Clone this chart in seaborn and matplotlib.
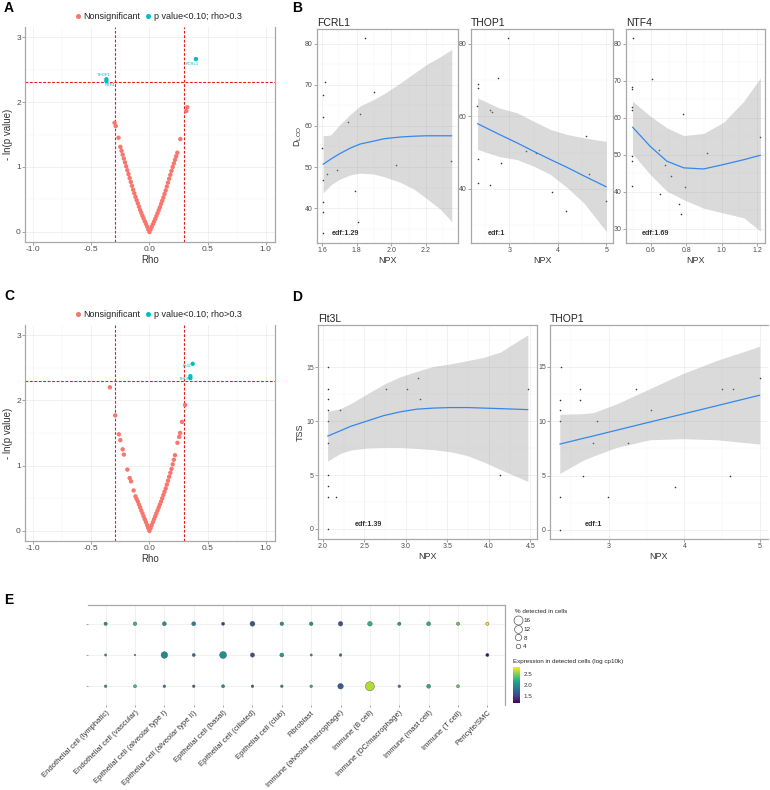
import numpy as np
import pandas as pd
import matplotlib
matplotlib.use("Agg")
import matplotlib.pyplot as plt
import seaborn as sns
from matplotlib.lines import Line2D
from matplotlib.ticker import MultipleLocator, FormatStrFormatter, FixedLocator
from matplotlib.cm import ScalarMappable
from matplotlib.colors import Normalize

sns.set_theme(style="white")
plt.rcParams['font.family'] = ['Liberation Sans', 'DejaVu Sans']
plt.rcParams['axes.unicode_minus'] = False

W, H = 770, 790
RED = "#F8766D"
CYAN = "#00BFC4"
LINE_BLUE = "#3388EE"
DASH_RED = "#E41A1C"
SPINE = "#A8A8A8"
TXT = "#4D4D4D"

# ---------------- panel A: volcano (D_LOO) ----------------
a_rho_ns = [0.00, 0.01, 0.02, 0.03, 0.04, 0.05, 0.06, 0.07, 0.08, 0.09, 0.10, 0.11, 0.12,
            0.13, 0.14, 0.15, 0.16, 0.17, 0.18, 0.19, 0.20, 0.21, 0.22, 0.23, 0.24,
            -0.01, -0.02, -0.03, -0.04, -0.05, -0.06, -0.07, -0.08, -0.09, -0.10, -0.11, -0.12,
            -0.13, -0.14, -0.15, -0.16, -0.17, -0.18, -0.19, -0.20, -0.21, -0.22, -0.23, -0.24,
            -0.25, -0.266, -0.29, -0.30, 0.266, 0.317, 0.326]
a_nlp_ns = [0.00, 0.04, 0.08, 0.12, 0.16, 0.20, 0.245, 0.29, 0.335, 0.38, 0.43, 0.48, 0.53,
            0.585, 0.64, 0.70, 0.76, 0.82, 0.88, 0.94, 1.00, 1.055, 1.11, 1.165, 1.22,
            0.04, 0.085, 0.125, 0.165, 0.21, 0.25, 0.295, 0.34, 0.39, 0.44, 0.49, 0.54,
            0.595, 0.65, 0.71, 0.77, 0.83, 0.89, 0.95, 1.01, 1.07, 1.13, 1.19, 1.25,
            1.31, 1.45, 1.63, 1.68, 1.43, 1.86, 1.92]
a_rho_sig = [0.40, -0.37, -0.37]
a_nlp_sig = [2.66, 2.35, 2.32]
a_genes = ["FCRL1", "THOP1", "NTF4"]

# ---------------- panel C: volcano (TSS) ----------------
c_rho_ns = [0.00, 0.01, 0.02, 0.03, 0.04, 0.05, 0.06, 0.07, 0.08, 0.09, 0.10, 0.11,
            0.12, 0.13, 0.14, 0.15, 0.16, 0.17, 0.18, 0.19, 0.20, 0.21, 0.22,
            0.241, 0.256, 0.264, 0.28, 0.307,
            -0.01, -0.02, -0.03, -0.04, -0.05, -0.06, -0.07, -0.08, -0.09, -0.10, -0.11, -0.12,
            -0.136, -0.158, -0.17, -0.19, -0.22, -0.23, -0.25, -0.263, -0.294, -0.34]
c_nlp_ns = [0.00, 0.045, 0.09, 0.135, 0.18, 0.225, 0.27, 0.315, 0.36, 0.405, 0.45, 0.50,
            0.55, 0.60, 0.65, 0.71, 0.77, 0.83, 0.89, 0.95, 1.02, 1.09, 1.16,
            1.35, 1.44, 1.50, 1.67, 1.93,
            0.045, 0.09, 0.135, 0.18, 0.225, 0.27, 0.315, 0.36, 0.405, 0.45, 0.49, 0.53,
            0.62, 0.76, 0.81, 0.94, 1.17, 1.25, 1.39, 1.48, 1.77, 2.20]
c_rho_sig = [0.372, 0.352, 0.352]
c_nlp_sig = [2.56, 2.37, 2.34]
c_genes = ["Flt3L", "THOP1", ""]

# ---------------- panel B: D_LOO vs NPX ----------------
fcrl1_npx = [1.604, 1.604, 1.600, 1.604, 1.604, 1.604, 1.604, 1.619, 1.629, 1.686, 1.749,
             1.817, 1.849, 1.792, 1.807, 1.897, 2.024, 2.344]
fcrl1_dloo = [67.6, 62.2, 54.6, 46.9, 41.4, 39.0, 33.9, 70.6, 48.4, 49.3, 61.0,
              63.0, 81.5, 44.2, 36.6, 68.2, 50.4, 51.5]
fcrl1_fx = [1.606, 1.65, 1.70, 1.763, 1.82, 1.897, 1.96, 2.05, 2.13, 2.204, 2.28, 2.348]
fcrl1_fit = [50.65, 51.9, 53.2, 54.6, 55.6, 56.3, 56.9, 57.3, 57.5, 57.6, 57.6, 57.6]
fcrl1_hi = [57.6, 57.8, 60.2, 62.8, 64.9, 66.4, 67.9, 70.4, 72.8, 75.0, 76.8, 78.6]
fcrl1_lo = [43.7, 45.6, 47.0, 48.1, 48.5, 48.3, 47.6, 46.3, 44.6, 42.3, 39.8, 36.7]

thop1b_npx = [2.345, 2.345, 2.33, 2.36, 2.345, 2.61, 2.61, 2.64, 2.77, 2.83, 2.97, 3.35,
              3.56, 3.88, 4.17, 4.59, 4.64, 5.0]
thop1b_dloo = [68.8, 67.9, 63.0, 48.3, 41.7, 61.9, 41.2, 61.1, 70.6, 47.2, 81.7, 50.4,
               49.9, 39.1, 34.0, 54.5, 44.2, 36.6]
thop1b_fx = [2.345, 2.8, 3.16, 3.5, 3.85, 4.2, 4.54, 5.0]
thop1b_fit = [58.0, 55.0, 52.7, 50.4, 48.1, 45.9, 43.6, 40.6]
thop1b_hi = [65.1, 62.3, 61.0, 58.7, 56.4, 55.0, 54.1, 53.1]
thop1b_lo = [50.9, 48.9, 48.1, 46.3, 44.0, 40.3, 36.1, 28.3]

ntf4_npx = [0.496, 0.492, 0.492, 0.492, 0.492, 0.492, 0.492, 0.492, 0.606, 0.643, 0.649,
            0.681, 0.715, 0.757, 0.772, 0.781, 0.79, 0.917, 1.219]
ntf4_dloo = [81.6, 68.4, 67.7, 63.0, 62.0, 49.6, 48.3, 41.7, 70.6, 51.4, 39.3,
             47.2, 44.2, 36.8, 34.1, 61.1, 41.3, 50.4, 54.8]
ntf4_fx = [0.496, 0.596, 0.69, 0.785, 0.898, 1.011, 1.125, 1.219]
ntf4_fit = [57.5, 52.3, 48.3, 46.5, 46.2, 47.4, 48.7, 49.9]
ntf4_hi = [64.5, 60.5, 57.3, 55.2, 55.8, 58.8, 64.5, 70.8]
ntf4_lo = [50.3, 44.7, 40.2, 37.9, 35.6, 34.3, 33.0, 29.4]

# ---------------- panel D: TSS vs NPX ----------------
flt3l_npx = [2.056, 2.056, 2.056, 2.056, 2.056, 2.056, 2.056, 2.056, 2.056, 2.056,
             2.16, 2.21, 2.76, 3.01, 3.15, 3.17, 4.13, 4.47]
flt3l_tss = [15, 13, 12, 11, 10, 8, 5, 4, 3, 0, 3, 11, 13, 13, 14, 12, 5, 13]
flt3l_fx = [2.056, 2.21, 2.33, 2.53, 2.73, 2.93, 3.13, 3.33, 3.54, 3.74, 3.94, 4.14, 4.47]
flt3l_fit = [8.6, 9.1, 9.5, 10.0, 10.5, 10.85, 11.1, 11.2, 11.25, 11.25, 11.2, 11.15, 11.06]
flt3l_hi = [10.9, 11.15, 11.6, 12.5, 13.4, 14.1, 14.6, 15.06, 15.3, 15.6, 15.9, 16.4, 18.0]
flt3l_lo = [6.3, 7.0, 7.3, 7.5, 7.55, 7.55, 7.46, 7.35, 7.15, 6.8, 6.2, 5.5, 4.4]

thop1d_npx = [2.365, 2.345, 2.345, 2.345, 2.345, 2.345, 2.61, 2.62, 2.65, 2.78, 2.84,
              2.98, 3.25, 3.36, 3.56, 3.87, 4.5, 4.64, 4.6, 5.0]
thop1d_tss = [15, 12, 11, 10, 3, 0, 13, 12, 5, 8, 10, 3, 8, 13, 11, 4, 13, 13, 5, 14]
thop1d_fx = [2.345, 2.65, 2.79, 3.1, 3.54, 3.98, 4.43, 5.0]
thop1d_fit = [7.9, 8.42, 8.65, 9.18, 9.93, 10.67, 11.43, 12.4]
thop1d_hi = [10.65, 10.7, 10.8, 11.6, 13.0, 14.4, 15.6, 16.9]
thop1d_lo = [5.2, 6.4, 6.8, 7.6, 8.3, 8.4, 8.3, 7.9]

# ---------------- panel E: dot plot ----------------
e_cells = ["Endothelial cell (lymphatic)", "Endothelial cell (vascular)",
           "Epithelial cell (alveolar type I)", "Epithelial cell (alveolar type II)",
           "Epithelial cell (basal)", "Epithelial cell (ciliated)", "Epithelial cell (club)",
           "Fibroblast", "Immune (alveolar macrophage)", "Immune (B cell)",
           "Immune (DC/macrophage)", "Immune (mast cell)", "Immune (T cell)", "Pericyte/SMC"]
e_pct_row1 = [2.2, 2.6, 3.1, 3.1, 2.0, 4.8, 2.6, 2.6, 4.2, 4.2, 2.2, 3.1, 2.2, 2.0]
e_pct_row2 = [1.0, 0.6, 8.6, 1.9, 9.5, 3.6, 3.1, 1.0, 1.4, None, None, None, None, 2.0]
e_pct_row3 = [1.4, 1.9, 1.4, 1.4, 1.9, 1.4, 1.4, 1.4, 6.2, 16.9, 1.4, 3.1, 1.9, None]
e_expr_row1 = [2.0, 2.3, 2.0, 1.9, 1.45, 1.6, 2.0, 2.05, 1.6, 2.25, 2.1, 2.2, 2.45, 2.82]
e_expr_row2 = [2.05, 2.3, 1.95, 1.75, 2.0, 1.55, 2.1, 1.9, 1.7, None, None, None, None, 1.2]
e_expr_row3 = [2.05, 2.35, 1.8, 1.7, 2.0, 1.55, 1.9, 2.2, 1.65, 2.65, 1.85, 2.2, 2.45, None]
e_size_legend = [16, 12, 8, 4]

fig = plt.figure(figsize=(W / 100, H / 100), dpi=100)
fig.patch.set_facecolor("white")


def add_px(l, t, r, b):
    return fig.add_axes([l / W, 1 - b / H, (r - l) / W, (b - t) / H])


def grid_style(ax, xmaj, ymaj, spines=("left", "bottom", "right", "top"), lab=5):
    ax.xaxis.set_major_locator(MultipleLocator(xmaj))
    ax.xaxis.set_minor_locator(MultipleLocator(xmaj / 2))
    ax.yaxis.set_major_locator(MultipleLocator(ymaj))
    ax.yaxis.set_minor_locator(MultipleLocator(ymaj / 2))
    ax.grid(which="major", color="#EBEBEB", lw=0.5)
    ax.grid(which="minor", color="#F4F4F4", lw=0.35)
    ax.set_axisbelow(True)
    for s in ax.spines:
        ax.spines[s].set_visible(s in spines)
        ax.spines[s].set_color(SPINE)
        ax.spines[s].set_linewidth(0.9)
    ax.tick_params(which="major", bottom=True, left=True, length=2, width=0.5,
                   color="#7F7F7F", labelsize=lab, labelcolor=TXT, pad=1)
    ax.tick_params(which="minor", length=0)


def volcano(ax, rho_ns, nlp_ns, rho_sig, nlp_sig, genes, label_off):
    df = pd.DataFrame({
        "rho": list(rho_ns) + list(rho_sig),
        "nlp": list(nlp_ns) + list(nlp_sig),
        "grp": ["Nonsignificant"] * len(rho_ns) + ["p value<0.10; rho>0.3"] * len(rho_sig),
    })
    sns.scatterplot(data=df, x="rho", y="nlp", hue="grp", palette=[RED, CYAN], s=10,
                    linewidth=0, ax=ax, legend=False, zorder=3)
    for v in (-0.3, 0.3):
        ax.axvline(v, color=DASH_RED, lw=0.8, dashes=(2.5, 1.5), zorder=2)
    ax.axhline(-np.log(0.1), color=DASH_RED, lw=0.8, dashes=(2.5, 1.5), zorder=2)
    for r, n, g, (dx, dy) in zip(rho_sig, nlp_sig, genes, label_off):
        if g:
            ax.text(r + dx, n + dy, g, color=CYAN, fontsize=3, ha="center", va="center")
    ax.set_xlim(-1.07, 1.08)
    ax.set_ylim(-0.154, 3.154)
    grid_style(ax, 0.5, 1, spines=("left", "bottom", "right"), lab=6)
    ax.xaxis.set_major_formatter(FormatStrFormatter("%.1f"))
    ax.set_xlabel("Rho", fontsize=7, color="#333333", labelpad=1)
    ax.set_ylabel("- ln(p value)", fontsize=7, color="#333333", labelpad=2)
    handles = [Line2D([0], [0], marker="o", ls="", color=RED, markersize=2.6, label="Nonsignificant"),
               Line2D([0], [0], marker="o", ls="", color=CYAN, markersize=2.6,
                      label="p value<0.10; rho>0.3")]
    ax.legend(handles=handles, loc="lower center", bbox_to_anchor=(0.53, 1.0), ncol=2,
              frameon=False, fontsize=6.5, handletextpad=0.1, columnspacing=0.4,
              handlelength=1.0, borderaxespad=0.25, labelcolor="#222222")


def smooth_panel(ax, px, py, fx, fit, lo, hi, title, edf, xlim, ylim, xmaj, ymaj, xfmt,
                 ylabel=None, edf_pos=(0.2, 0.045)):
    grid_style(ax, xmaj, ymaj)
    sns.scatterplot(x=px, y=py, ax=ax, s=1.3, color="#333333", linewidth=0, zorder=2)
    ax.fill_between(fx, lo, hi, color="#999999", alpha=0.36, linewidth=0, zorder=3)
    sns.lineplot(x=fx, y=fit, ax=ax, color=LINE_BLUE, lw=0.9, zorder=4)
    ax.set_xlim(*xlim)
    ax.set_ylim(*ylim)
    ax.xaxis.set_major_formatter(FormatStrFormatter(xfmt))
    ax.set_title(title, loc="left", fontsize=7.5, pad=2.5, color="#222222")
    ax.set_xlabel("NPX", fontsize=6.5, color="#333333", labelpad=1)
    ax.set_ylabel(ylabel if ylabel else "", fontsize=6.5, color="#333333", labelpad=1)
    ax.text(edf_pos[0], edf_pos[1], edf, transform=ax.transAxes, fontsize=5.2,
            ha="center", va="center", color="#333333", fontweight="bold")


# ---------- A ----------
ax_a = add_px(25, 27, 275, 242)
volcano(ax_a, a_rho_ns, a_nlp_ns, a_rho_sig, a_nlp_sig, a_genes,
        [(-0.03, -0.075), (-0.02, 0.065), (0.03, -0.06)])

# ---------- C ----------
ax_c = add_px(25, 325, 275, 541)
volcano(ax_c, c_rho_ns, c_nlp_ns, c_rho_sig, c_nlp_sig, c_genes,
        [(-0.045, -0.04), (-0.035, -0.05), (0, 0)])

# ---------- B ----------
ax_b1 = add_px(317, 29, 458, 243)
smooth_panel(ax_b1, fcrl1_npx, fcrl1_dloo, fcrl1_fx, fcrl1_fit, fcrl1_lo, fcrl1_hi,
             "FCRL1", "edf:1.29", (1.571, 2.384), (31.5, 83.6), 0.2, 10, "%.1f",
             ylabel=r"$\mathregular{D_{LOO}}$", edf_pos=(0.2, 0.045))
ax_b2 = add_px(471, 29, 613, 243)
smooth_panel(ax_b2, thop1b_npx, thop1b_dloo, thop1b_fx, thop1b_fit, thop1b_lo, thop1b_hi,
             "THOP1", "edf:1", (2.21, 5.14), (25.1, 84.1), 1, 20, "%d", edf_pos=(0.18, 0.045))
ax_b3 = add_px(626, 29, 765, 243)
smooth_panel(ax_b3, ntf4_npx, ntf4_dloo, ntf4_fx, ntf4_fit, ntf4_lo, ntf4_hi,
             "NTF4", "edf:1.69", (0.459, 1.245), (26.2, 84.0), 0.2, 10, "%.1f",
             edf_pos=(0.21, 0.045))

# ---------- D ----------
ax_d1 = add_px(318, 325, 537, 539)
smooth_panel(ax_d1, flt3l_npx, flt3l_tss, flt3l_fx, flt3l_fit, flt3l_lo, flt3l_hi,
             "Flt3L", "edf:1.39", (1.94, 4.58), (-0.93, 18.9), 0.5, 5, "%.1f",
             ylabel="TSS", edf_pos=(0.23, 0.07))
ax_d2 = add_px(550, 325, 768, 539)
smooth_panel(ax_d2, thop1d_npx, thop1d_tss, thop1d_fx, thop1d_fit, thop1d_lo, thop1d_hi,
             "THOP1", "edf:1", (2.215, 5.11), (-0.83, 18.86), 1, 5, "%d", edf_pos=(0.2, 0.07))
ax_d2.spines["right"].set_visible(False)

# ---------- E ----------
rows = []
for ri, (pcts, exprs) in enumerate([(e_pct_row1, e_expr_row1), (e_pct_row2, e_expr_row2),
                                    (e_pct_row3, e_expr_row3)]):
    for ci, (p, e) in enumerate(zip(pcts, exprs)):
        if p is not None:
            rows.append({"cell": ci, "row": ri, "pct": p, "expr": e})
df_e = pd.DataFrame(rows)
ax_e = add_px(88, 605, 505, 705)
E_NORM = (1.15, 2.85)
S_MAX = 42
sns.scatterplot(data=df_e, x="cell", y="row", hue="expr", palette="viridis", hue_norm=E_NORM,
                size="pct", sizes=(0, S_MAX), size_norm=(0, 16), edgecolor="#555555",
                linewidth=0.3, ax=ax_e, legend=False, zorder=3)
ax_e.set_xlim(-0.6, 13.6)
ax_e.set_ylim(2.6, -0.6)
ax_e.xaxis.set_major_locator(FixedLocator(range(len(e_cells))))
ax_e.yaxis.set_major_locator(FixedLocator([0, 1, 2]))
ax_e.set_xticklabels(e_cells, rotation=45, ha="right", rotation_mode="anchor",
                     fontsize=5.5, color="#333333")
ax_e.set_yticklabels([])
ax_e.grid(True, color="#EBEBEB", lw=0.5)
ax_e.set_axisbelow(True)
for s in ax_e.spines:
    ax_e.spines[s].set_visible(s in ("top", "right"))
    ax_e.spines[s].set_color(SPINE)
    ax_e.spines[s].set_linewidth(0.9)
ax_e.tick_params(bottom=True, left=True, length=1.5, width=0.5, color="#7F7F7F", pad=1.5)
ax_e.set_xlabel("")
ax_e.set_ylabel("")

# size legend
size_handles = [Line2D([0], [0], marker="o", ls="", markerfacecolor="none",
                       markeredgecolor="#555555", markeredgewidth=0.5,
                       markersize=np.sqrt(S_MAX * v / 16), label=str(v)) for v in e_size_legend]
leg = fig.legend(handles=size_handles, loc="upper left", bbox_to_anchor=(512 / W, 1 - 606 / H),
                 frameon=False, fontsize=4.5, title="% detected in cells", title_fontsize=4.5,
                 labelspacing=0.55, handletextpad=0.3, borderpad=0, handlelength=1.0,
                 alignment="left")
fig.text(513 / W, 1 - 661 / H, "Expression in detected cells (log cp10k)", fontsize=4.5,
         va="center", color="#222222")
cax = add_px(513, 667, 520, 703)
cb = fig.colorbar(ScalarMappable(norm=Normalize(*E_NORM), cmap="viridis"), cax=cax,
                  ticks=[1.5, 2.0, 2.5])
cb.outline.set_visible(False)
cax.tick_params(labelsize=4.5, length=1.5, color="white", pad=1, labelcolor="#333333")
cax.yaxis.set_major_formatter(FormatStrFormatter("%.1f"))

# panel letters
for letter, (x, y) in {"A": (4, 8), "B": (292, 8), "C": (4, 296), "D": (292, 297),
                       "E": (4, 600)}.items():
    fig.text(x / W, 1 - y / H, letter, fontsize=10, fontweight="bold", va="center",
             ha="left", color="black")

fig.savefig("out.png", dpi=100, facecolor="white")
